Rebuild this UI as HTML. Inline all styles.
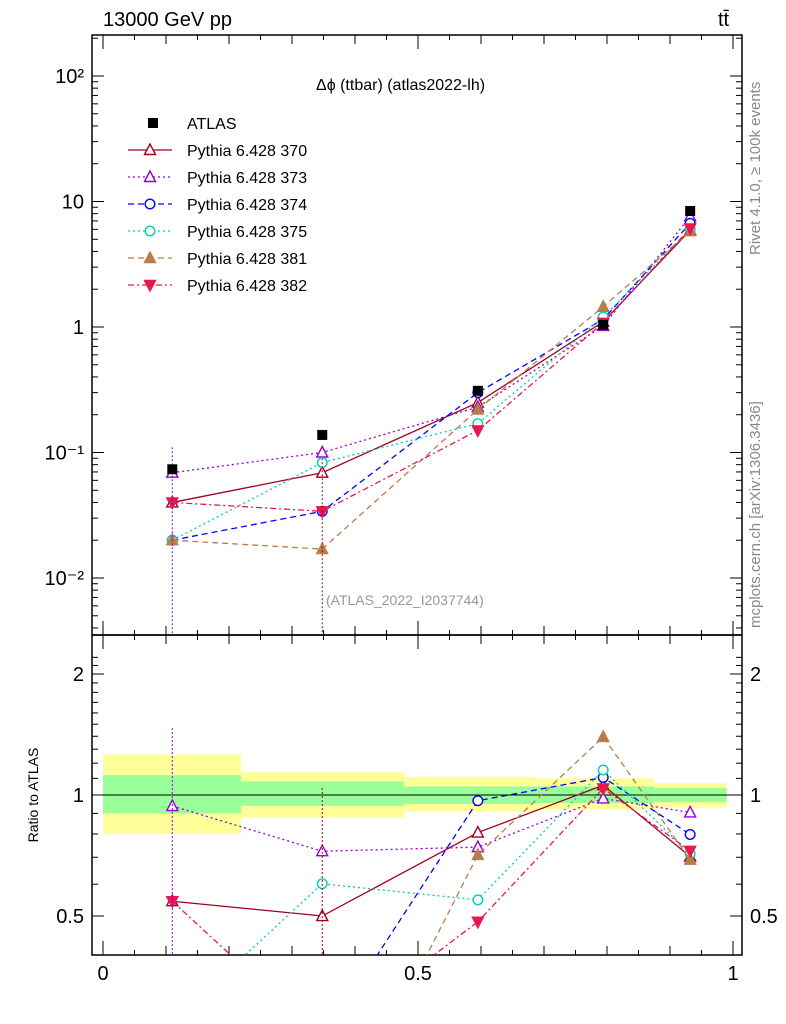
<!DOCTYPE html>
<html><head><meta charset="utf-8"><style>
html,body{margin:0;padding:0;background:#fff;width:786px;height:1024px;overflow:hidden;}
svg{font-family:"Liberation Sans",sans-serif;display:block;}
</style></head><body>
<svg id="c" width="786" height="1024" viewBox="0 0 786 1024" xmlns="http://www.w3.org/2000/svg">
<text x="103" y="26" font-size="20">13000 GeV pp</text>
<text x="718" y="26" font-size="20">tt̄</text>
<text x="316" y="90" font-size="16">Δϕ (ttbar) (atlas2022-lh)</text>
<text x="760" y="255" font-size="15" fill="#888" transform="rotate(-90 760 255)">Rivet 4.1.0, ≥ 100k events</text>
<text x="760" y="628" font-size="15" fill="#888" transform="rotate(-90 760 628)">mcplots.cern.ch [arXiv:1306.3436]</text>
<text x="326" y="605" font-size="14" fill="#999">(ATLAS_2022_I2037744)</text>
<text x="38" y="795" font-size="14" transform="rotate(-90 38 795)" text-anchor="middle">Ratio to ATLAS</text>
<g id="bands"></g><g id="axes"></g>
<svg x="92" y="35" width="650" height="600" viewBox="92 35 650 600" overflow="hidden"><g id="gm"></g></svg>
<svg x="92" y="635" width="650" height="320" viewBox="92 635 650 320" overflow="hidden"><g id="gr"></g></svg>
<g id="legend"></g>
</svg>
<script>
const xs=[0.11,0.348,0.595,0.794,0.932];
const atlas=[0.0735,0.138,0.31,1.04,8.4];
const names=["Pythia 6.428 370","Pythia 6.428 373","Pythia 6.428 374","Pythia 6.428 375","Pythia 6.428 381","Pythia 6.428 382"];
const s370=[0.040,0.069,0.25,1.1,5.9];
const s373=[0.069,0.100,0.23,1.02,7.6];
const s374=[0.020,0.034,0.30,1.15,6.7];
const s375=[0.020,0.083,0.17,1.2,6.0];
const s381=[0.020,0.017,0.22,1.45,5.8];
const s382=[0.040,0.034,0.15,1.08,6.1];
const binEdges=[0,0.219,0.478,0.69,0.875,0.99];
const yelLo=[0.80,0.88,0.91,0.92,0.93], yelHi=[1.26,1.14,1.11,1.10,1.07];
const grnLo=[0.90,0.94,0.95,0.955,0.96], grnHi=[1.12,1.08,1.05,1.05,1.04];
const NS="http://www.w3.org/2000/svg";
const X=v=>103+630*v, Y=v=>327-125.5*Math.log10(v), R=v=>795-402*Math.log10(v);
function el(t,a,p){const e=document.createElementNS(NS,t);for(const k in a)e.setAttribute(k,a[k]);document.getElementById(p).appendChild(e);return e;}
for(let i=0;i<5;i++){
 let r=el('rect',{x:X(binEdges[i]),y:R(yelHi[i]),width:X(binEdges[i+1])-X(binEdges[i]),height:R(yelLo[i])-R(yelHi[i]),fill:'#ffff99'},'bands');
 
 let g=el('rect',{x:X(binEdges[i]),y:R(grnHi[i]),width:X(binEdges[i+1])-X(binEdges[i]),height:R(grnLo[i])-R(grnHi[i]),fill:'#99ff99'},'bands');
 
}
el('line',{x1:92,x2:742,y1:795,y2:795,stroke:'#000'},'axes');
let f1=el('rect',{x:92,y:35,width:650,height:600,fill:'none',stroke:'#000','stroke-width':1.5},'axes');

let f2=el('rect',{x:92,y:635,width:650,height:320,fill:'none',stroke:'#000','stroke-width':1.5},'axes');

for(let d=-3;d<=2;d++)for(let m=1;m<10;m++){const v=m*Math.pow(10,d);const y=Y(v);if(y<35||y>635)continue;const L=m==1?12:6;
 el('line',{x1:92,x2:92+L,y1:y,y2:y,stroke:'#000'},'axes');el('line',{x1:742,x2:742-L,y1:y,y2:y,stroke:'#000'},'axes');}
const ylab=[[100,'10²'],[10,'10'],[1,'1'],[0.1,'10⁻¹'],[0.01,'10⁻²']];
ylab.forEach(([v,t])=>{let e=el('text',{x:84,y:Y(v)+7,'font-size':20,'text-anchor':'end'},'axes');e.textContent=t;});
for(let v=0.4;v<=2.3;v+=0.1){const y=R(v);if(y<635||y>955)continue;const maj=[0.5,1,2].some(q=>Math.abs(q-v)<1e-6);const L=maj?12:6;
 el('line',{x1:92,x2:92+L,y1:y,y2:y,stroke:'#000'},'axes');el('line',{x1:742,x2:742-L,y1:y,y2:y,stroke:'#000'},'axes');}
[[0.5,'0.5'],[1,'1'],[2,'2']].forEach(([v,t])=>{let e=el('text',{x:84,y:R(v)+7,'font-size':20,'text-anchor':'end'},'axes');e.textContent=t;
 let e2=el('text',{x:750,y:R(v)+7,'font-size':20},'axes');e2.textContent=t;});
for(let i=0;i<=20;i++){const v=i*0.05;const x=X(v);const L=i%10==0?14:(i%2==0?9:5);
 [35,635].forEach(t=>el('line',{x1:x,x2:x,y1:t,y2:t+L,stroke:'#000'},'axes'));
 [635,955].forEach(b=>el('line',{x1:x,x2:x,y1:b,y2:b-L,stroke:'#000'},'axes'));}
[[0,'0'],[0.5,'0.5'],[1,'1']].forEach(([v,t])=>{let e=el('text',{x:X(v),y:980,'font-size':20,'text-anchor':'middle'},'axes');e.textContent=t;});
const sty=[
 {c:'#a0001e',d:'',m:'tri',f:false},
 {c:'#9400d3',d:'2,3',m:'tri',f:false},
 {c:'#0000ff',d:'6,4',m:'circ',f:false},
 {c:'#00ccbb',d:'2,3',m:'circ',f:false},
 {c:'#b87d4b',d:'6,4',m:'tri',f:true},
 {c:'#e8174f',d:'6,3,2,3',m:'dtri',f:true}];
const allS=[s370,s373,s374,s375,s381,s382];
function marker(m,x,y,c,f,p){
 const fill=f?c:'#fff';
 if(m=='tri')return el('polygon',{points:`${x},${y-6} ${x-5.5},${y+4.5} ${x+5.5},${y+4.5}`,fill:fill,stroke:c,'stroke-width':1.4},p);
 if(m=='dtri')return el('polygon',{points:`${x},${y+6} ${x-5.5},${y-4.5} ${x+5.5},${y-4.5}`,fill:fill,stroke:c,'stroke-width':1.4},p);
 if(m=='circ')return el('circle',{cx:x,cy:y,r:4.8,fill:fill,stroke:c,'stroke-width':1.4},p);
 return el('rect',{x:x-5,y:y-5,width:10,height:10,fill:'#000'},p);
}
allS.forEach((s,k)=>{const st=sty[k];
 let pl=el('polyline',{points:s.map((v,i)=>X(xs[i])+','+Y(v)).join(' '),fill:'none',stroke:st.c,'stroke-width':1.3,'stroke-dasharray':st.d},'gm');
 
 let rl=el('polyline',{points:s.map((v,i)=>X(xs[i])+','+R(v/atlas[i])).join(' '),fill:'none',stroke:st.c,'stroke-width':1.3,'stroke-dasharray':st.d},'gr');
 
 s.forEach((v,i)=>{let mk=marker(st.m,X(xs[i]),Y(v),st.c,st.f,'gm');
  let r=v/atlas[i];if(R(r)>965)return;let mr=marker(st.m,X(xs[i]),R(r),st.c,st.f,'gr');});
});
el('line',{x1:X(xs[0]),x2:X(xs[0]),y1:Y(0.11),y2:635,stroke:'#9400d3','stroke-dasharray':'2,2'},'gm');
el('line',{x1:X(xs[1]),x2:X(xs[1]),y1:Y(0.09),y2:635,stroke:'#a0001e','stroke-dasharray':'2,2'},'gm');
el('line',{x1:X(xs[0]),x2:X(xs[0]),y1:728,y2:955,stroke:'#9400d3','stroke-dasharray':'2,2'},'gr');
el('line',{x1:X(xs[1]),x2:X(xs[1]),y1:788,y2:955,stroke:'#a0001e','stroke-dasharray':'2,2'},'gr');
atlas.forEach((v,i)=>{let mk=marker('sq',X(xs[i]),Y(v),'#000',true,'gm');});
let lg=el('rect',{x:148,y:118,width:10,height:10,fill:'#000'},'legend');

let lt=el('text',{x:187,y:129,'font-size':16},'legend');lt.textContent='ATLAS';
names.forEach((n,k)=>{const y=150+k*27;const st=sty[k];
 let l=el('line',{x1:128,x2:172,y1:y,y2:y,stroke:st.c,'stroke-width':1.3,'stroke-dasharray':st.d},'legend');
 
 let m=marker(st.m,150,y,st.c,st.f,'legend');
 let t=el('text',{x:187,y:y+6,'font-size':16},'legend');t.textContent=n;
});
</script>
</body></html>
